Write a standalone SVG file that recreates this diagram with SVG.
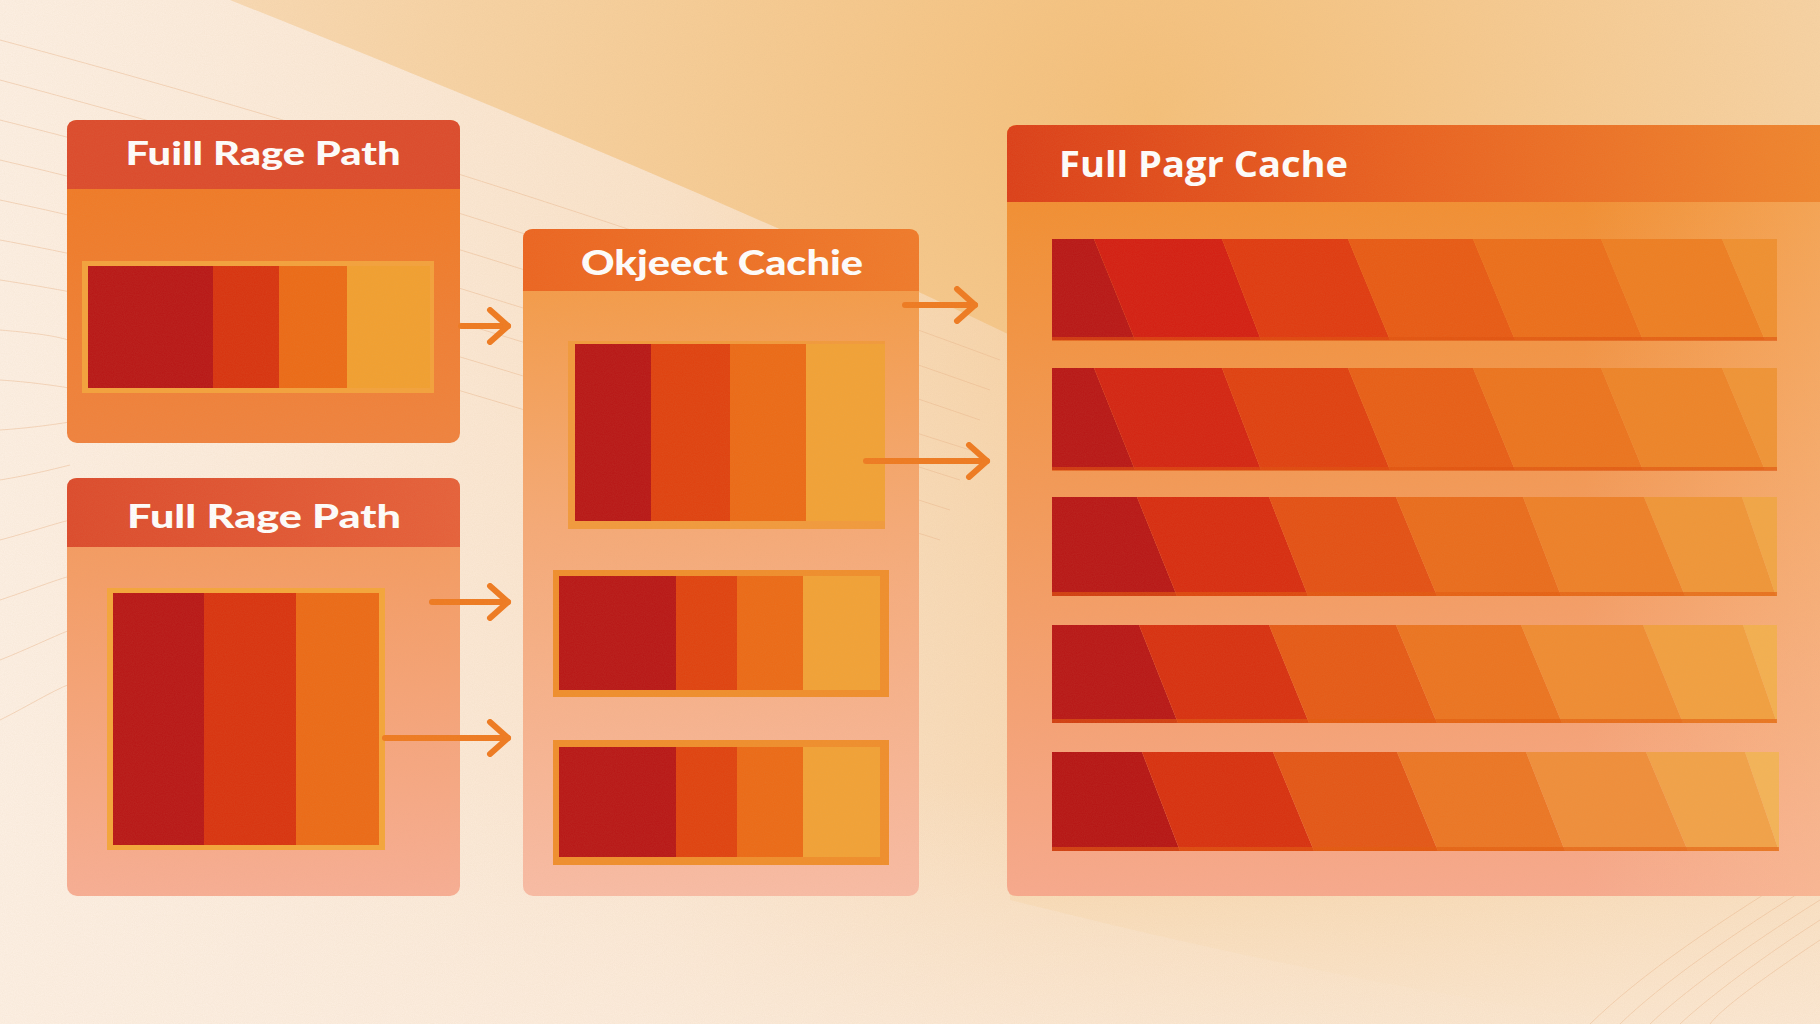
<svg xmlns="http://www.w3.org/2000/svg" width="1820" height="1024" viewBox="0 0 1820 1024">
<defs>
<radialGradient id="bg" cx="1150" cy="120" r="1300" gradientUnits="userSpaceOnUse">
<stop offset="0" stop-color="#f5c07a"/>
<stop offset="0.5" stop-color="#f7d2a2"/>
<stop offset="1" stop-color="#fbe4cc"/>
</radialGradient>
<linearGradient id="pale" x1="0" y1="0" x2="1650" y2="0" gradientUnits="userSpaceOnUse">
<stop offset="0" stop-color="#fdf1e6" stop-opacity="0.95"/>
<stop offset="0.4" stop-color="#fcebdc" stop-opacity="0.75"/>
<stop offset="0.62" stop-color="#fae3cc" stop-opacity="0.5"/>
<stop offset="1" stop-color="#fae3cc" stop-opacity="0"/>
</linearGradient>
<linearGradient id="bottom" x1="0" y1="780" x2="0" y2="1024" gradientUnits="userSpaceOnUse">
<stop offset="0" stop-color="#fdf0e4" stop-opacity="0"/>
<stop offset="1" stop-color="#fdf0e4" stop-opacity="0.55"/>
</linearGradient>
<linearGradient id="n1body" x1="0" y1="0" x2="0" y2="1">
<stop offset="0" stop-color="#f07820"/>
<stop offset="1" stop-color="#f0823e"/>
</linearGradient>
<linearGradient id="n2body" x1="0" y1="0" x2="0" y2="1">
<stop offset="0" stop-color="#f49858"/>
<stop offset="1" stop-color="#f8ae95"/>
</linearGradient>
<linearGradient id="n3body" x1="0" y1="0" x2="0" y2="1">
<stop offset="0" stop-color="#f4983e"/>
<stop offset="0.45" stop-color="#f6aa78"/>
<stop offset="1" stop-color="#f9bca6"/>
</linearGradient>
<linearGradient id="n4body" x1="0" y1="0" x2="0" y2="1">
<stop offset="0" stop-color="#f28c28"/>
<stop offset="0.5" stop-color="#f49a5a"/>
<stop offset="1" stop-color="#f8a98e"/>
</linearGradient>
<linearGradient id="n4right" x1="0" y1="0" x2="1" y2="0">
<stop offset="0" stop-color="#ffe0b0" stop-opacity="0"/>
<stop offset="0.7" stop-color="#ffe0b0" stop-opacity="0"/>
<stop offset="1" stop-color="#ffd9a8" stop-opacity="0.3"/>
</linearGradient>
<linearGradient id="n4head" x1="0" y1="0" x2="1" y2="0">
<stop offset="0" stop-color="#dc3e18"/>
<stop offset="0.5" stop-color="#ea6220"/>
<stop offset="1" stop-color="#f0862e"/>
</linearGradient>
<linearGradient id="n3head" x1="0" y1="0" x2="1" y2="0">
<stop offset="0" stop-color="#ec6420"/>
<stop offset="1" stop-color="#f07a2a"/>
</linearGradient>
<linearGradient id="n2head" x1="0" y1="0" x2="1" y2="0">
<stop offset="0" stop-color="#dc4a2c"/>
<stop offset="1" stop-color="#e6603a"/>
</linearGradient>
<marker id="chev" viewBox="0 0 26 38" refX="22" refY="19" markerWidth="26" markerHeight="38" markerUnits="userSpaceOnUse" orient="auto">
<path d="M4,3 L22,19 L4,35" fill="none" stroke="#ef7a20" stroke-width="6" stroke-linecap="round" stroke-linejoin="round"/>
</marker>
<filter id="grain" x="0" y="0" width="100%" height="100%">
<feTurbulence type="fractalNoise" baseFrequency="0.9" numOctaves="2" seed="3" result="n"/>
<feColorMatrix in="n" type="matrix" values="0 0 0 0 0.6  0 0 0 0 0.4  0 0 0 0 0.2  0 0 0 0.22 0"/>
</filter>
</defs>
<style>
.title{font-family:"Lato","Open Sans","Liberation Sans",sans-serif;font-weight:900;fill:#ffffff;}
.title4{font-family:"Open Sans","Noto Sans","Liberation Sans",sans-serif;font-weight:700;fill:#ffffff;}
.arrow{fill:none;stroke:#ef7a20;stroke-width:6;stroke-linecap:round;marker-end:url(#chev);}
.dk{fill:#b81616;}
.rd{fill:#d8330f;}
.or{fill:#ec6a16;}
.lt{fill:#f2a030;}
.faint{fill:none;stroke:#e9b48a;stroke-width:1;opacity:0.45;}
</style>

<!-- background -->
<rect x="0" y="0" width="1820" height="1024" fill="url(#bg)"/>
<path d="M0,0 L230,0 C480,100 760,215 1010,335 L1010,900 C1250,960 1450,1000 1650,1024 L0,1024 Z" fill="url(#pale)"/>
<rect x="0" y="780" width="1820" height="244" fill="url(#bottom)"/>
<g class="faint">
<path d="M0,40 C300,120 650,230 1000,360"/>
<path d="M0,80 C300,160 620,260 990,390"/>
<path d="M0,120 C280,190 600,290 980,420"/>
<path d="M0,160 C260,220 560,320 970,450"/>
<path d="M0,200 C240,250 520,340 960,480"/>
<path d="M0,240 C220,280 480,360 950,510"/>
<path d="M0,280 C200,310 440,380 940,540"/>
<path d="M0,330 C60,335 70,340 80,345"/>
<path d="M0,380 C30,382 50,385 70,388"/>
<path d="M0,430 C30,428 50,425 70,422"/>
<path d="M0,480 C30,475 50,470 70,465"/>
<path d="M0,540 C30,532 50,525 70,520"/>
<path d="M0,600 C30,590 50,582 70,576"/>
<path d="M0,660 C30,648 50,638 70,630"/>
<path d="M0,720 C30,705 50,692 70,684"/>
<path d="M1820,860 C1720,920 1640,975 1590,1024"/>
<path d="M1820,880 C1730,935 1660,985 1620,1024"/>
<path d="M1820,900 C1740,950 1680,995 1650,1024"/>
<path d="M1820,920 C1750,965 1700,1005 1680,1024"/>
<path d="M1820,940 C1760,980 1720,1010 1710,1024"/>
</g>

<!-- node 1 -->
<g id="node-fullrage-1">
<rect x="67" y="120" width="393" height="323" rx="10" fill="url(#n1body)"/>
<path d="M67,189 L67,130 Q67,120 77,120 L450,120 Q460,120 460,130 L460,189 Z" fill="#dc4a2c"/>
<text class="title" x="263" y="165" font-size="32" text-anchor="middle" textLength="275" lengthAdjust="spacingAndGlyphs">Fuill Rage Path</text>
<rect x="82" y="261" width="352" height="132" fill="#f4a23c"/>
<rect x="88" y="266" width="125" height="122" class="dk"/>
<rect x="213" y="266" width="66" height="122" class="rd"/>
<rect x="279" y="266" width="68" height="122" class="or"/>
<rect x="347" y="266" width="83" height="122" class="lt"/>
</g>

<!-- node 2 -->
<g id="node-fullrage-2">
<rect x="67" y="478" width="393" height="418" rx="10" fill="url(#n2body)"/>
<path d="M67,547 L67,488 Q67,478 77,478 L450,478 Q460,478 460,488 L460,547 Z" fill="url(#n2head)"/>
<text class="title" x="264" y="528" font-size="32" text-anchor="middle" textLength="274" lengthAdjust="spacingAndGlyphs">Full Rage Path</text>
<rect x="107" y="588" width="278" height="262" fill="#f5a63a"/>
<rect x="113" y="593" width="91" height="252" class="dk"/>
<rect x="204" y="593" width="92" height="252" fill="#d9330f"/>
<rect x="296" y="593" width="83" height="252" class="or"/>
</g>

<!-- node 3 -->
<g id="node-objectcache">
<rect x="523" y="229" width="396" height="667" rx="10" fill="url(#n3body)"/>
<path d="M523,291 L523,239 Q523,229 533,229 L909,229 Q919,229 919,239 L919,291 Z" fill="url(#n3head)"/>
<text class="title" x="722" y="275" font-size="35" text-anchor="middle" textLength="282" lengthAdjust="spacingAndGlyphs">Okjeect Cachie</text>
<rect x="568" y="341" width="317" height="188" fill="#f29a3c"/>
<rect x="575" y="344" width="76" height="177" class="dk"/>
<rect x="651" y="344" width="79" height="177" fill="#e0410f"/>
<rect x="730" y="344" width="76" height="177" class="or"/>
<rect x="806" y="344" width="79" height="177" fill="#f2a236"/>
<rect x="553" y="570" width="336" height="127" fill="#f08e2c"/>
<rect x="559" y="576" width="117" height="114" class="dk"/>
<rect x="676" y="576" width="61" height="114" fill="#e0420f"/>
<rect x="737" y="576" width="66" height="114" class="or"/>
<rect x="803" y="576" width="77" height="114" fill="#f2a236"/>
<rect x="553" y="740" width="336" height="125" fill="#f08e2c"/>
<rect x="559" y="747" width="117" height="110" class="dk"/>
<rect x="676" y="747" width="61" height="110" fill="#e0420f"/>
<rect x="737" y="747" width="66" height="110" class="or"/>
<rect x="803" y="747" width="77" height="110" fill="#f2a236"/>
</g>

<!-- node 4 -->
<g id="node-fullpagecache">
<path d="M1017,125 L1830,125 L1830,896 L1017,896 Q1007,896 1007,886 L1007,135 Q1007,125 1017,125 Z" fill="url(#n4body)"/>
<rect x="1007" y="202" width="823" height="694" fill="url(#n4right)"/>
<path d="M1007,202 L1007,135 Q1007,125 1017,125 L1830,125 L1830,202 Z" fill="url(#n4head)"/>
<text class="title4" x="1059" y="177" font-size="36" textLength="289" lengthAdjust="spacingAndGlyphs">Full Pagr Cache</text>
<g>
<polygon points="1052,239 1094,239 1135,340 1052,340" fill="#b81616"/>
<polygon points="1094,239 1222,239 1261,340 1135,340" fill="#d41e12"/>
<polygon points="1222,239 1348,239 1390,340 1261,340" fill="#e03a10"/>
<polygon points="1348,239 1473,239 1515,340 1390,340" fill="#e85a14"/>
<polygon points="1473,239 1601,239 1643,340 1515,340" fill="#ec6e1a"/>
<polygon points="1601,239 1722,239 1765,340 1643,340" fill="#ee7e22"/>
<polygon points="1722,239 1777,239 1777,340 1765,340" fill="#f09030"/>
<rect x="1052" y="337" width="725" height="4" fill="#e0500e" opacity="0.6"/>
</g>
<g>
<polygon points="1052,368 1094,368 1135,470 1052,470" fill="#b81616"/>
<polygon points="1094,368 1222,368 1261,470 1135,470" fill="#d42412"/>
<polygon points="1222,368 1348,368 1390,470 1261,470" fill="#e04010"/>
<polygon points="1348,368 1473,368 1515,470 1390,470" fill="#e85e16"/>
<polygon points="1473,368 1601,368 1643,470 1515,470" fill="#ec741e"/>
<polygon points="1601,368 1722,368 1765,470 1643,470" fill="#ee8428"/>
<polygon points="1722,368 1777,368 1777,470 1765,470" fill="#f09436"/>
<rect x="1052" y="467" width="725" height="4" fill="#e0500e" opacity="0.6"/>
</g>
<g>
<polygon points="1052,497 1137,497 1177,596 1052,596" fill="#b81616"/>
<polygon points="1137,497 1269,497 1308,596 1177,596" fill="#d82c10"/>
<polygon points="1269,497 1396,497 1437,596 1308,596" fill="#e45014"/>
<polygon points="1396,497 1523,497 1561,596 1437,596" fill="#ea6c1c"/>
<polygon points="1523,497 1644,497 1685,596 1561,596" fill="#ee8028"/>
<polygon points="1644,497 1742,497 1776,596 1685,596" fill="#f09638"/>
<polygon points="1742,497 1777,497 1777,596 1776,596" fill="#f2a646"/>
<rect x="1052" y="592" width="725" height="4" fill="#e35a0e" opacity="0.6"/>
</g>
<g>
<polygon points="1052,625 1139,625 1178,723 1052,723" fill="#b81616"/>
<polygon points="1139,625 1269,625 1309,723 1178,723" fill="#d83010"/>
<polygon points="1269,625 1396,625 1437,723 1309,723" fill="#e65a16"/>
<polygon points="1396,625 1521,625 1562,723 1437,723" fill="#ec7420"/>
<polygon points="1521,625 1643,625 1683,723 1562,723" fill="#f08c32"/>
<polygon points="1643,625 1743,625 1777,723 1683,723" fill="#f2a040"/>
<polygon points="1743,625 1777,625 1777,723" fill="#f4b050"/>
<rect x="1052" y="719" width="725" height="4" fill="#e35a0e" opacity="0.6"/>
</g>
<g>
<polygon points="1052,752 1142,752 1180,851 1052,851" fill="#b61414"/>
<polygon points="1142,752 1273,752 1314,851 1180,851" fill="#d8300f"/>
<polygon points="1273,752 1397,752 1438,851 1314,851" fill="#e45616"/>
<polygon points="1397,752 1526,752 1565,851 1438,851" fill="#ec7624"/>
<polygon points="1526,752 1646,752 1688,851 1565,851" fill="#f08e3a"/>
<polygon points="1646,752 1745,752 1779,851 1688,851" fill="#f2a248"/>
<polygon points="1745,752 1779,752 1779,851" fill="#f4b458"/>
<rect x="1052" y="847" width="727" height="4" fill="#e35a0e" opacity="0.6"/>
</g>
</g>

<!-- connectors -->
<g id="connectors">
<line class="arrow" x1="461" y1="326" x2="508" y2="326"/>
<line class="arrow" x1="432" y1="602" x2="508" y2="602"/>
<line class="arrow" x1="385" y1="738" x2="508" y2="738"/>
<line class="arrow" x1="905" y1="305" x2="975" y2="305"/>
<line class="arrow" x1="866" y1="461" x2="987" y2="461"/>
</g>

<rect x="0" y="0" width="1820" height="1024" filter="url(#grain)" opacity="0.5"/>
</svg>
